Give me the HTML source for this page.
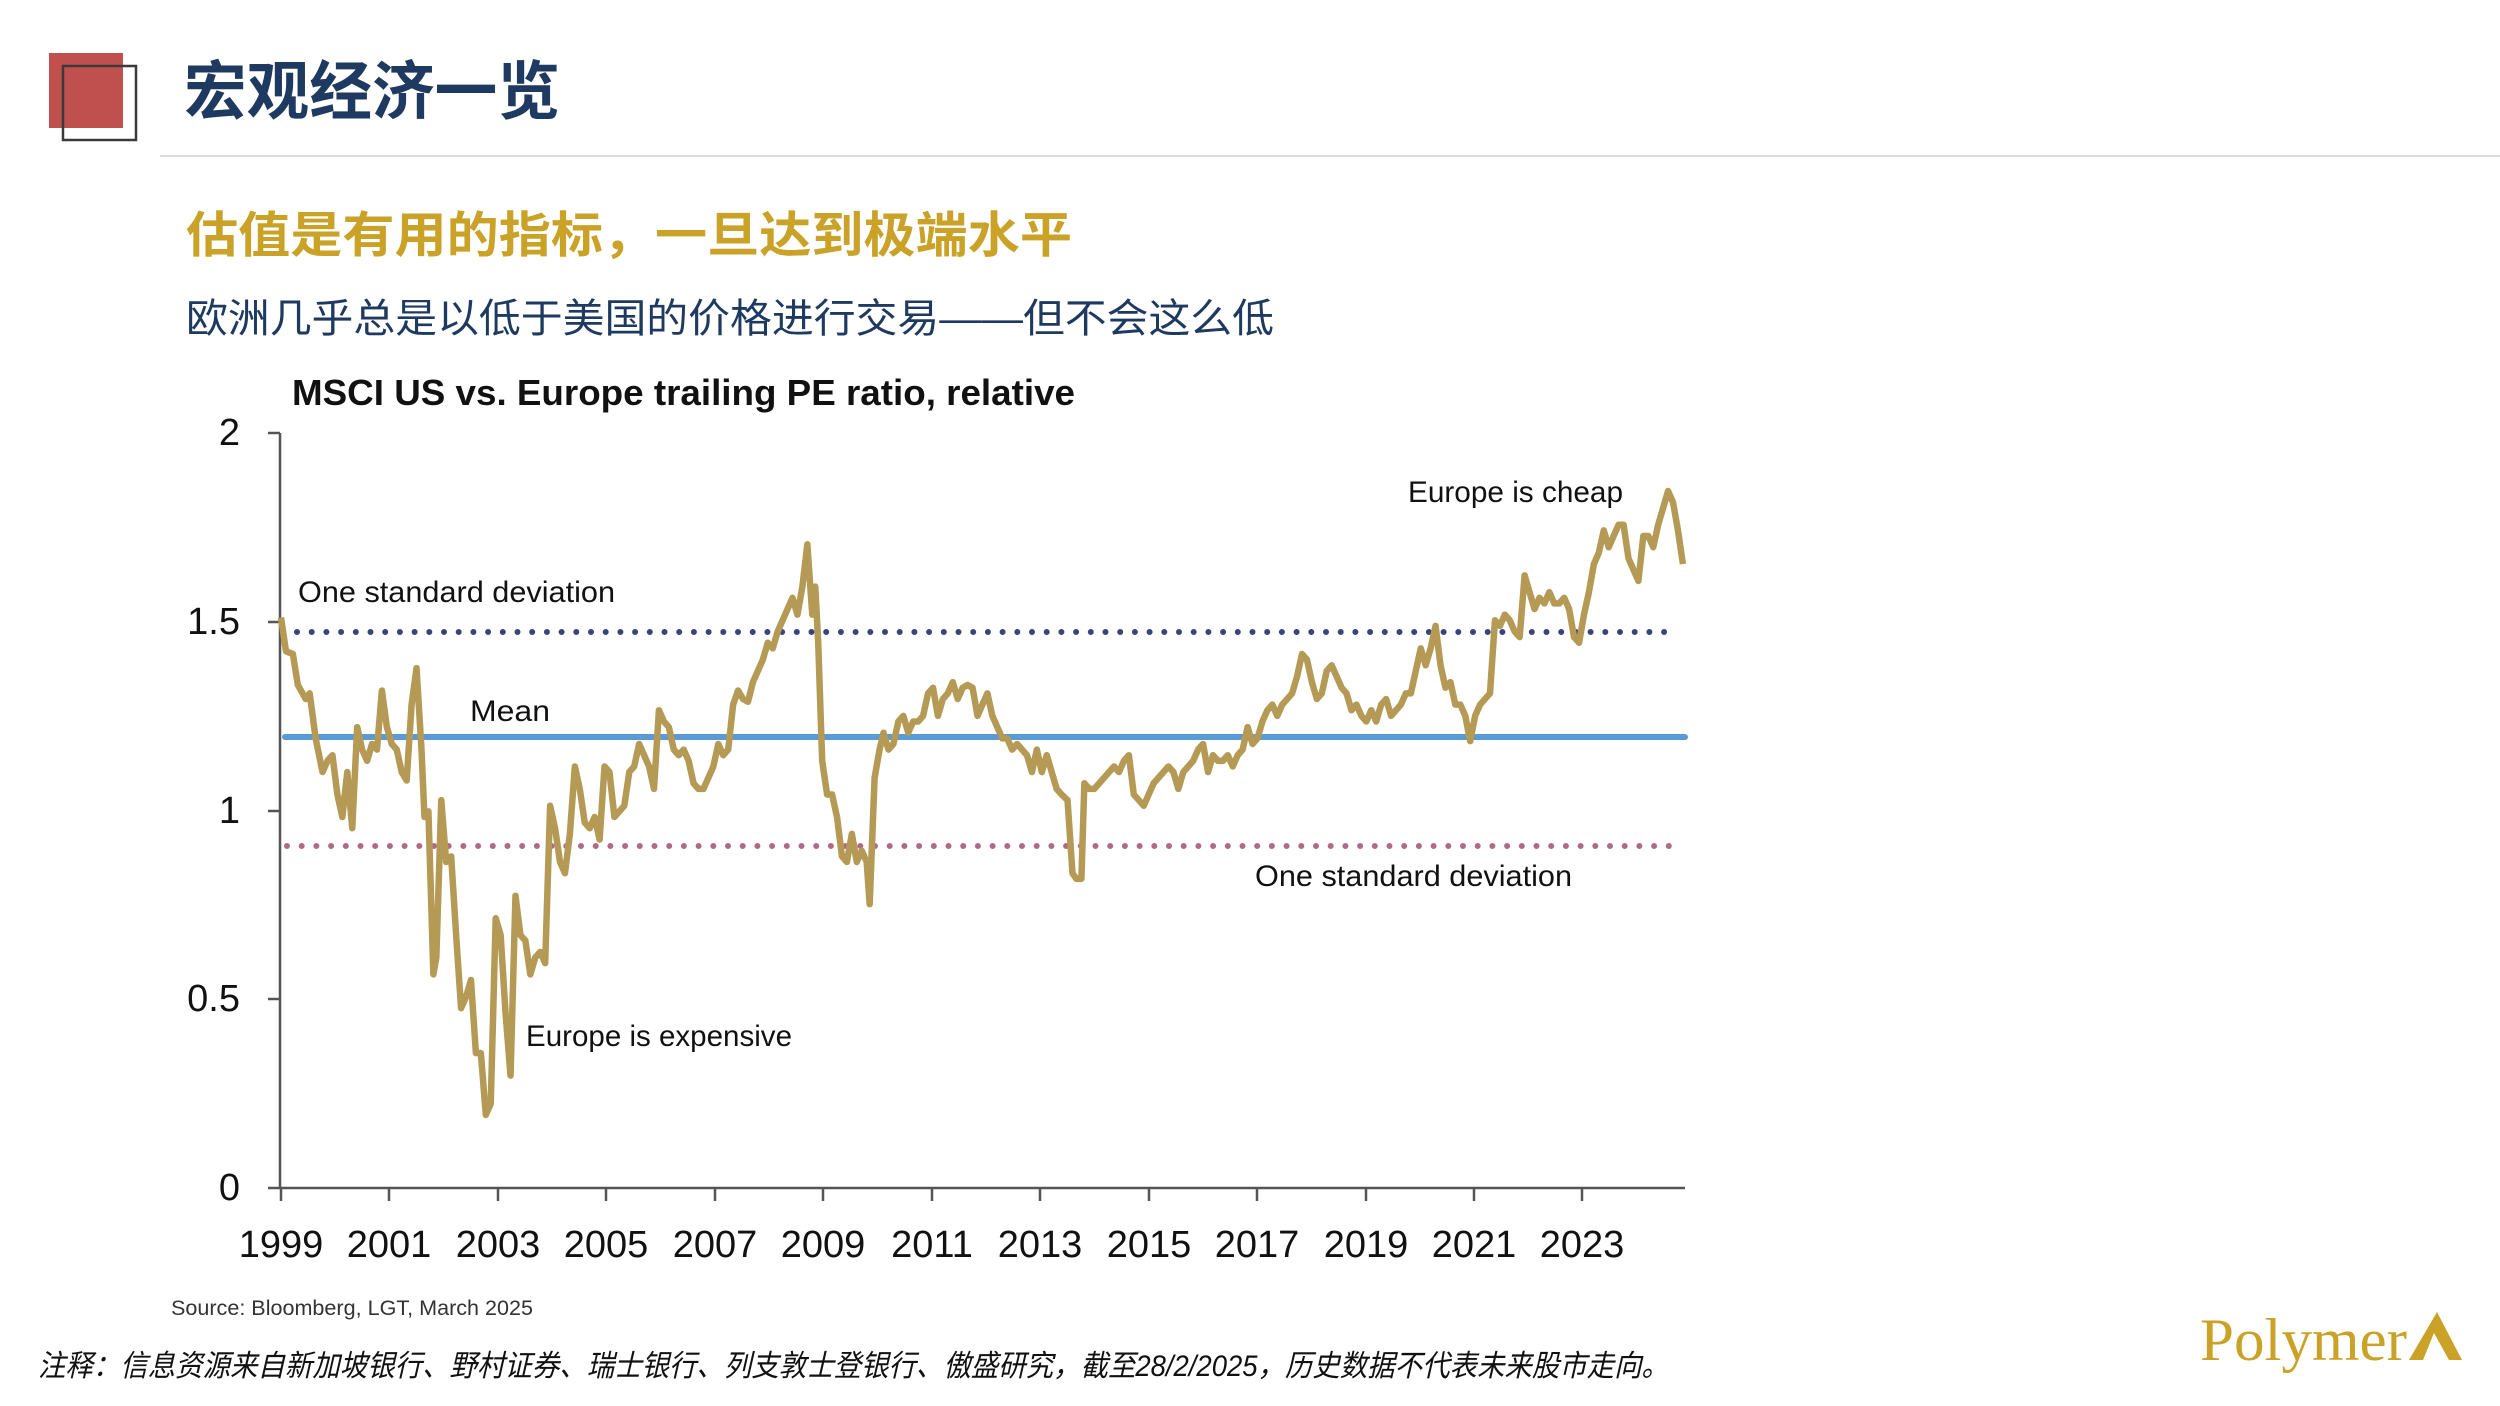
<!DOCTYPE html>
<html><head><meta charset="utf-8"><style>
html,body{margin:0;padding:0;background:#fff;}
svg{display:block;}
</style></head><body>
<svg width="2500" height="1406" viewBox="0 0 2500 1406" xmlns="http://www.w3.org/2000/svg">
<rect width="2500" height="1406" fill="#fff"/>
<!-- header -->
<rect x="49" y="53" width="74" height="75" fill="#C0504D"/>
<rect x="63" y="66" width="73" height="74" fill="none" stroke="#3a3a3a" stroke-width="2.5"/>
<line x1="160" y1="156" x2="2500" y2="156" stroke="#dcdcdc" stroke-width="2"/>
<text x="184" y="114" font-family="Liberation Sans, Noto Sans CJK SC, sans-serif" font-weight="bold" font-size="64" fill="#1F3A60" textLength="376" lengthAdjust="spacingAndGlyphs">宏观经济一览</text>
<text x="186" y="252" font-family="Liberation Sans, Noto Sans CJK SC, sans-serif" font-weight="bold" font-size="49" fill="#C9A227" textLength="886" lengthAdjust="spacingAndGlyphs">估值是有用的指标，一旦达到极端水平</text>
<text x="186" y="332" font-family="Liberation Sans, Noto Sans CJK SC, sans-serif" font-size="40" fill="#1F3A60" textLength="1088" lengthAdjust="spacingAndGlyphs">欧洲几乎总是以低于美国的价格进行交易——但不会这么低</text>
<!-- chart title -->
<text x="292" y="405" font-family="Liberation Sans, sans-serif" font-weight="bold" font-size="36" fill="#111" textLength="783" lengthAdjust="spacingAndGlyphs">MSCI US vs. Europe trailing PE ratio, relative</text>
<!-- axes -->
<g stroke="#555" stroke-width="2.5" fill="none">
<line x1="280" y1="433" x2="280" y2="1188"/>
<line x1="280" y1="1188" x2="1685" y2="1188"/>
<line x1="268" y1="433" x2="280" y2="433"/>
<line x1="268" y1="622" x2="280" y2="622"/>
<line x1="268" y1="811" x2="280" y2="811"/>
<line x1="268" y1="999" x2="280" y2="999"/>
<line x1="268" y1="1188" x2="280" y2="1188"/>
<line x1="281" y1="1188" x2="281" y2="1201"/>
<line x1="389" y1="1188" x2="389" y2="1201"/>
<line x1="498" y1="1188" x2="498" y2="1201"/>
<line x1="606" y1="1188" x2="606" y2="1201"/>
<line x1="715" y1="1188" x2="715" y2="1201"/>
<line x1="823" y1="1188" x2="823" y2="1201"/>
<line x1="932" y1="1188" x2="932" y2="1201"/>
<line x1="1040" y1="1188" x2="1040" y2="1201"/>
<line x1="1149" y1="1188" x2="1149" y2="1201"/>
<line x1="1257" y1="1188" x2="1257" y2="1201"/>
<line x1="1366" y1="1188" x2="1366" y2="1201"/>
<line x1="1474" y1="1188" x2="1474" y2="1201"/>
<line x1="1582" y1="1188" x2="1582" y2="1201"/>
</g>
<g font-family="Liberation Sans, sans-serif" font-size="38" fill="#111" text-anchor="end">
<text x="240" y="445">2</text>
<text x="240" y="634">1.5</text>
<text x="240" y="823">1</text>
<text x="240" y="1011">0.5</text>
<text x="240" y="1200">0</text>
</g>
<g font-family="Liberation Sans, sans-serif" font-size="38" fill="#111" text-anchor="middle">
<text x="281" y="1257">1999</text>
<text x="389" y="1257">2001</text>
<text x="498" y="1257">2003</text>
<text x="606" y="1257">2005</text>
<text x="715" y="1257">2007</text>
<text x="823" y="1257">2009</text>
<text x="932" y="1257">2011</text>
<text x="1040" y="1257">2013</text>
<text x="1149" y="1257">2015</text>
<text x="1257" y="1257">2017</text>
<text x="1366" y="1257">2019</text>
<text x="1474" y="1257">2021</text>
<text x="1582" y="1257">2023</text>
</g>
<!-- reference lines -->
<line x1="285" y1="737" x2="1685" y2="737" stroke="#5B9BD5" stroke-width="6" stroke-linecap="round"/>
<line x1="297" y1="632" x2="1675" y2="632" stroke="#3A4478" stroke-width="6" stroke-dasharray="0 14.7" stroke-linecap="round"/>
<line x1="287" y1="846" x2="1675" y2="846" stroke="#B06A88" stroke-width="6" stroke-dasharray="0 14.7" stroke-linecap="round"/>
<!-- series -->
<polyline transform="matrix(0.98935 0 0 0.56208 149.42 378.6)" vector-effect="non-scaling-stroke" fill="none" stroke="#B59A55" stroke-width="6.5" stroke-linejoin="round" points="133,425 138,485 145,490 150,545 158,570 162,560 168,640 175,700 180,680 185,670 190,740 195,780 200,700 205,800 210,620 215,660 220,680 225,650 230,660 235,555 240,620 245,650 250,660 255,700 260,715 265,580 270,515 275,660 278,780 282,770 287,1060 290,1030 295,750 300,860 305,850 310,990 315,1120 320,1100 325,1070 330,1200 335,1200 340,1310 345,1290 350,960 355,990 360,1130 365,1240 370,920 375,990 380,1000 385,1060 390,1030 395,1020 400,1040 405,760 410,800 415,860 420,880 425,810 430,690 435,730 440,790 445,800 450,780 455,820 460,690 465,700 470,780 475,770 480,760 485,700 490,690 495,650 500,670 505,690 510,730 515,590 520,610 525,620 530,660 535,670 540,660 545,680 550,720 555,730 560,730 565,710 570,690 575,650 580,670 585,660 590,580 595,555 600,570 605,575 610,540 615,520 620,500 625,470 630,480 635,450 640,430 645,410 650,390 655,420 660,370 665,295 670,420 673,370 676,470 680,680 685,740 690,740 695,780 700,850 705,860 710,810 715,860 720,840 725,860 728,935 733,710 738,660 742,630 747,660 752,650 757,610 762,600 767,630 772,610 777,610 782,600 787,560 792,550 797,600 802,570 807,560 812,540 817,570 822,550 827,545 832,550 837,600 842,580 847,560 852,600 857,620 862,640 867,640 872,660 877,650 882,660 887,670 892,700 897,660 902,700 907,670 912,700 917,730 922,740 928,750 933,880 937,890 942,890 945,720 950,730 955,730 960,720 965,710 970,700 975,690 980,700 985,680 990,670 995,740 1000,750 1005,760 1010,740 1015,720 1020,710 1025,700 1030,690 1035,700 1040,730 1045,700 1050,690 1055,680 1060,660 1065,650 1070,700 1075,670 1080,680 1085,680 1090,670 1095,690 1100,670 1105,660 1110,620 1115,650 1120,640 1125,610 1130,590 1135,580 1140,600 1145,580 1150,570 1155,560 1160,530 1165,490 1170,500 1175,540 1180,570 1185,560 1190,520 1195,510 1200,530 1205,550 1210,560 1215,590 1220,580 1225,600 1230,610 1235,590 1240,610 1245,580 1250,570 1255,600 1260,590 1265,580 1270,560 1275,560 1280,520 1285,480 1290,510 1295,480 1300,440 1305,510 1310,550 1315,540 1320,580 1325,580 1330,600 1335,645 1340,600 1345,580 1350,570 1355,560 1360,430 1365,440 1370,420 1375,430 1380,450 1385,460 1390,350 1395,380 1400,410 1405,390 1410,400 1415,380 1420,400 1425,400 1430,390 1435,410 1440,460 1445,470 1450,420 1455,380 1460,330 1465,310 1470,270 1475,300 1480,280 1485,260 1490,260 1495,320 1500,340 1505,360 1510,280 1515,280 1520,300 1525,260 1530,230 1535,200 1540,220 1545,270 1550,330"/>
<!-- annotations -->
<g font-family="Liberation Sans, sans-serif" font-size="30" fill="#111">
<text x="298" y="602" textLength="317" lengthAdjust="spacingAndGlyphs">One standard deviation</text>
<text x="470" y="721" textLength="80" lengthAdjust="spacingAndGlyphs">Mean</text>
<text x="1255" y="886" textLength="317" lengthAdjust="spacingAndGlyphs">One standard deviation</text>
<text x="526" y="1046" textLength="266" lengthAdjust="spacingAndGlyphs">Europe is expensive</text>
<text x="1408" y="502" textLength="215" lengthAdjust="spacingAndGlyphs">Europe is cheap</text>
</g>
<text x="171" y="1315" font-family="Liberation Sans, sans-serif" font-size="21" fill="#333" textLength="362" lengthAdjust="spacingAndGlyphs">Source: Bloomberg, LGT, March 2025</text>
<text x="38" y="1376" font-family="Liberation Sans, Noto Sans CJK SC, sans-serif" font-style="italic" font-size="30" fill="#111" textLength="1631" lengthAdjust="spacingAndGlyphs">注释：信息资源来自新加坡银行、野村证券、瑞士银行、列支敦士登银行、傲盛研究，截至28/2/2025，历史数据不代表未来股市走向。</text>
<!-- logo -->
<text x="2200" y="1360" font-family="Liberation Serif, serif" font-size="60" fill="#C9A227" textLength="207" lengthAdjust="spacingAndGlyphs">Polymer</text>
<polygon points="2409,1360 2437,1312 2462,1360 2449,1360 2434,1333 2423,1360" fill="#C9A227"/>
</svg>
</body></html>
